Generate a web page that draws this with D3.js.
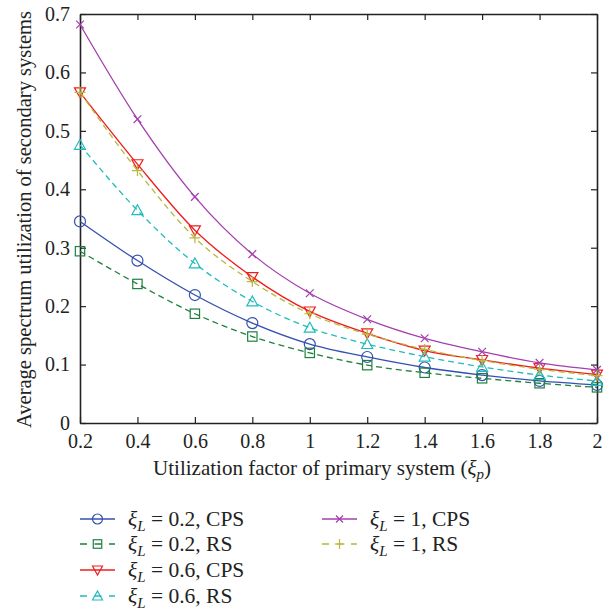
<!DOCTYPE html>
<html>
<head>
<meta charset="utf-8">
<script src="https://cdn.jsdelivr.net/npm/d3@7"></script>
<style>
  body { margin: 0; background: #fff; }
  text { font-family: "Liberation Serif", "DejaVu Serif", serif; fill: #222; }
</style>
</head>
<body>
<div id="chart"></div>
<script>
var width = 616
var height = 616
var margin = { top: 14, right: 19, bottom: 193, left: 80 }

// data
var xValues = [0.2, 0.4, 0.6, 0.8, 1.0, 1.2, 1.4, 1.6, 1.8, 2.0]
var cps02 = [0.345, 0.278, 0.219, 0.171, 0.135, 0.113, 0.095, 0.082, 0.072, 0.065]
var rs02 = [0.294, 0.238, 0.187, 0.148, 0.120, 0.099, 0.086, 0.0765, 0.068, 0.061]
var cps06 = [0.566, 0.443, 0.330, 0.250, 0.191, 0.1535, 0.124, 0.108, 0.094, 0.083]
var rs06 = [0.476, 0.364, 0.273, 0.208, 0.163, 0.135, 0.1135, 0.096, 0.082, 0.072]
var cps1 = [0.682, 0.520, 0.387, 0.289, 0.222, 0.1775, 0.145, 0.122, 0.103, 0.091]
var rs1 = [0.566, 0.432, 0.317, 0.242, 0.187, 0.152, 0.126, 0.107, 0.092, 0.081]
var xTicks = [0.2, 0.4, 0.6, 0.8, 1, 1.2, 1.4, 1.6, 1.8, 2]
var yTicks = [0, 0.1, 0.2, 0.3, 0.4, 0.5, 0.6, 0.7]
var seriesNames = ["0.2, CPS", "0.2, RS", "0.6, CPS", "0.6, RS", "1, CPS", "1, RS"]

var series = [
  { name: seriesNames[0], values: cps02, color: "#3450b0", dash: null, marker: "circle" },
  { name: seriesNames[1], values: rs02, color: "#1e8040", dash: "6,4", marker: "square" },
  { name: seriesNames[2], values: cps06, color: "#f01c1c", dash: null, marker: "down" },
  { name: seriesNames[3], values: rs06, color: "#22bcbc", dash: "6,4", marker: "up" },
  { name: seriesNames[4], values: cps1, color: "#a43fae", dash: null, marker: "x" },
  { name: seriesNames[5], values: rs1, color: "#b8b83c", dash: "6,4", marker: "plus" }
]

var svg = d3.select("#chart").append("svg").attr("width", width).attr("height", height)

var x = d3.scaleLinear().domain([0.2, 2]).range([margin.left, width - margin.right])
var y = d3.scaleLinear().domain([0, 0.7]).range([height - margin.bottom, margin.top])

var x0 = x(0.2), x1 = x(2), y0 = y(0), y1 = y(0.7)

// axes (ticks inward, box)
var fmt = function(d){ return d3.format("~g")(d) }
svg.append("g").attr("transform", "translate(0," + y0 + ")")
  .call(d3.axisBottom(x).tickValues(xTicks).tickSizeInner(-6).tickSizeOuter(0).tickPadding(11).tickFormat(fmt))
svg.append("g").attr("transform", "translate(0," + y1 + ")")
  .call(d3.axisTop(x).tickValues(xTicks).tickSizeInner(-6).tickSizeOuter(0).tickFormat(""))
svg.append("g").attr("transform", "translate(" + x0 + ",0)")
  .call(d3.axisLeft(y).tickValues(yTicks).tickSizeInner(-6).tickSizeOuter(0).tickPadding(10).tickFormat(fmt))
svg.append("g").attr("transform", "translate(" + x1 + ",0)")
  .call(d3.axisRight(y).tickValues(yTicks).tickSizeInner(-6).tickSizeOuter(0).tickFormat(""))

svg.selectAll(".domain").attr("stroke", "#222").attr("stroke-width", 1.6)
svg.selectAll(".tick line").attr("stroke", "#222").attr("stroke-width", 1.2)
svg.selectAll(".tick text").style("font-family", "Liberation Serif, serif").style("font-size", "20px").attr("fill", "#222")

// axis labels
svg.append("text")
  .attr("x", 322).attr("y", y0 + 52)
  .attr("text-anchor", "middle").style("font-size", "21px")
  .html('Utilization factor of primary system (<tspan font-style="italic">ξ</tspan><tspan font-style="italic" font-size="15px" dy="4">p</tspan><tspan dy="-4">)</tspan>')

svg.append("text")
  .attr("transform", "translate(31," + ((y0 + y1) / 2 + 1) + ") rotate(-90)")
  .attr("text-anchor", "middle").style("font-size", "20.5px")
  .text("Average spectrum utilization of secondary systems")

// lines
var line = d3.line().curve(d3.curveMonotoneX)
  .x(function(d, i){ return x(xValues[i]) })
  .y(function(d){ return y(d) })

function drawMarker(g, type, color, size) {
  var s = size
  if (type === "circle") {
    g.append("circle").attr("r", s).attr("fill", "none").attr("stroke", color).attr("stroke-width", 1.2)
  } else if (type === "square") {
    g.append("rect").attr("x", -s * 0.85).attr("y", -s * 0.85).attr("width", s * 1.7).attr("height", s * 1.7)
      .attr("fill", "none").attr("stroke", color).attr("stroke-width", 1.2)
  } else if (type === "down") {
    g.append("path").attr("d", "M" + (-s) + "," + (-s * 0.8) + "L" + s + "," + (-s * 0.8) + "L0," + (s * 1.0) + "Z")
      .attr("fill", "none").attr("stroke", color).attr("stroke-width", 1.2)
  } else if (type === "up") {
    g.append("path").attr("d", "M" + (-s) + "," + (s * 0.8) + "L" + s + "," + (s * 0.8) + "L0," + (-s * 1.0) + "Z")
      .attr("fill", "none").attr("stroke", color).attr("stroke-width", 1.2)
  } else if (type === "x") {
    var k = s * 0.7
    g.append("path").attr("d", "M" + (-k) + "," + (-k) + "L" + k + "," + k + "M" + (-k) + "," + k + "L" + k + "," + (-k))
      .attr("stroke", color).attr("stroke-width", 1.2)
  } else if (type === "plus") {
    g.append("path").attr("d", "M" + (-s) + ",0L" + s + ",0M0," + (-s) + "L0," + s)
      .attr("stroke", color).attr("stroke-width", 1.2)
  }
}

var groups = svg.selectAll("g.series")
  .data(series)
  .enter()
  .append("g")
  .attr("class", "series")

groups.append("path")
  .attr("d", function(d){ return line(d.values) })
  .attr("fill", "none")
  .attr("stroke", function(d){ return d.color })
  .attr("stroke-width", 1.3)
  .attr("stroke-dasharray", function(d){ return d.dash })

groups.each(function(s){
  var g = d3.select(this)
  s.values.forEach(function(v, i){
    var m = g.append("g").attr("transform", "translate(" + x(xValues[i]) + "," + y(v) + ")")
    drawMarker(m, s.marker, s.color, 5.5)
  })
})

// legend
var legendPos = [
  { x: 80, y: 519 }, { x: 80, y: 544 }, { x: 80, y: 570 }, { x: 80, y: 596 },
  { x: 322, y: 519 }, { x: 322, y: 544 }
]
var legend = svg.selectAll("g.legend")
  .data(series)
  .enter()
  .append("g")
  .attr("class", "legend")
  .attr("transform", function(d, i){ return "translate(" + legendPos[i].x + "," + legendPos[i].y + ")" })

legend.append("line")
  .attr("x1", 0).attr("x2", 35).attr("y1", 0).attr("y2", 0)
  .attr("stroke", function(d){ return d.color })
  .attr("stroke-width", 1.3)
  .attr("stroke-dasharray", function(d){ return d.dash ? "7,7.5" : null })

legend.each(function(s){
  var m = d3.select(this).append("g").attr("transform", "translate(17.5,0)")
  drawMarker(m, s.marker, s.color, 5)
})

legend.append("text")
  .attr("x", 48).attr("y", 7)
  .style("font-size", "21.5px")
  .html(function(d){
    return '<tspan font-style="italic">ξ</tspan><tspan font-style="italic" font-size="15px" dy="5">L</tspan><tspan dy="-5"> = ' + d.name + '</tspan>'
  })
</script>
</body>
</html>
